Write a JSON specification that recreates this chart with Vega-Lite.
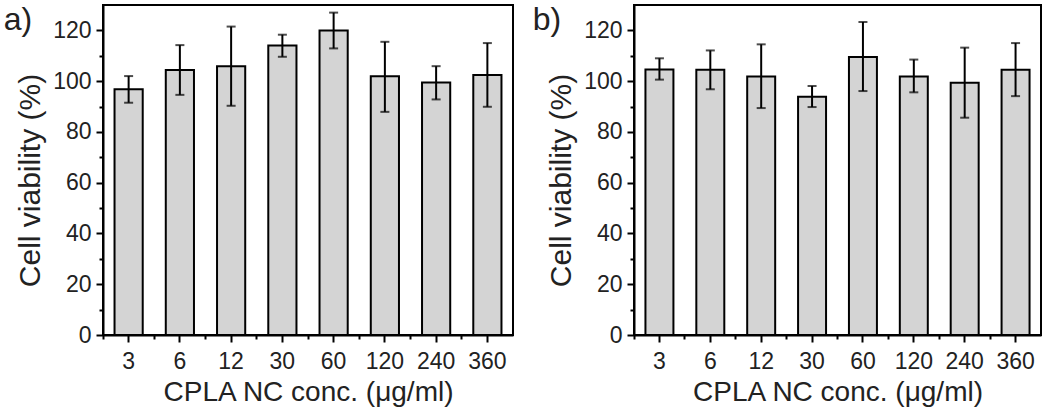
{
  "$schema": "https://vega.github.io/schema/vega-lite/v6.json",
  "background": "white",
  "padding": {"left": 2, "top": 3, "right": 5, "bottom": 0},
  "datasets": {
    "a": [
      {"conc": "3", "mean": 96.8, "lo": 91.5, "hi": 102.0},
      {"conc": "6", "mean": 104.4, "lo": 94.6, "hi": 114.2},
      {"conc": "12", "mean": 105.9, "lo": 90.3, "hi": 121.5},
      {"conc": "30", "mean": 114.0, "lo": 109.6, "hi": 118.3},
      {"conc": "60", "mean": 120.0, "lo": 112.9, "hi": 127.0},
      {"conc": "120", "mean": 101.9, "lo": 87.9, "hi": 115.5},
      {"conc": "240", "mean": 99.5, "lo": 92.8, "hi": 105.9},
      {"conc": "360", "mean": 102.4, "lo": 89.9, "hi": 115.0}
    ],
    "b": [
      {"conc": "3", "mean": 104.6, "lo": 100.6, "hi": 109.0},
      {"conc": "6", "mean": 104.5, "lo": 96.8, "hi": 112.1},
      {"conc": "12", "mean": 101.8, "lo": 89.4, "hi": 114.5},
      {"conc": "30", "mean": 93.9, "lo": 89.8, "hi": 98.1},
      {"conc": "60", "mean": 109.5, "lo": 96.1, "hi": 123.3},
      {"conc": "120", "mean": 101.8, "lo": 95.6, "hi": 108.5},
      {"conc": "240", "mean": 99.4, "lo": 85.6, "hi": 113.2},
      {"conc": "360", "mean": 104.5, "lo": 94.1, "hi": 115.0}
    ]
  },
  "config": {
    "font": "Liberation Sans",
    "view": {"stroke": "black", "strokeWidth": 2},
    "axis": {
      "domainColor": "black", "domainWidth": 2, "tickColor": "black", "tickWidth": 2,
      "labelColor": "#222", "titleColor": "#222", "labelFont": "Liberation Sans", "titleFont": "Liberation Sans",
      "labelFontSize": 23, "titleFontSize": 28, "titleFontWeight": "normal", "grid": false
    },
    "axisLeft": {"titleFontSize": 30},
    "title": {"fontSize": 32, "fontWeight": "normal", "anchor": "start", "frame": "bounds", "color": "#222", "font": "Liberation Sans"},
    "concat": {"spacing": 17}
  },
  "hconcat": [
    {
      "title": {"text": "a)", "dx": -12, "dy": 36},
      "width": 410, "height": 330,
      "data": {"name": "a"},
      "resolve": {"axis": {"x": "independent", "y": "independent"}},
      "layer": [
        {
          "mark": {"type": "bar", "width": {"band": 0.55}, "fill": "#d4d4d4", "stroke": "black", "strokeWidth": 2},
          "encoding": {
            "x": {"field": "conc", "type": "ordinal", "sort": null, "scale": {"paddingInner": 0, "paddingOuter": 0},
                  "axis": {"orient": "bottom", "labelAngle": 0, "tickSize": 7, "labelPadding": 8, "title": "CPLA NC conc. (μg/ml)", "titlePadding": 5}},
            "y": {"field": "mean", "type": "quantitative", "scale": {"domain": [0, 130], "nice": false},
                  "axis": {"orient": "left", "values": [0, 20, 40, 60, 80, 100, 120], "tickSize": 7, "labelPadding": 5, "title": "Cell viability (%)", "titlePadding": 7, "titleY": 175}}
          }
        },
        {
          "mark": {"type": "rule", "color": "black", "strokeWidth": 2},
          "encoding": {
            "x": {"field": "conc", "type": "ordinal", "sort": null,
                  "axis": {"orient": "bottom", "bandPosition": 0, "tickSize": 4, "labels": false, "domain": false, "title": null}},
            "y": {"field": "lo", "type": "quantitative",
                  "axis": {"orient": "left", "values": [10, 30, 50, 70, 90, 110], "tickSize": 4, "labels": false, "domain": false, "title": null}},
            "y2": {"field": "hi"}
          }
        },
        {
          "mark": {"type": "tick", "color": "black", "size": 9, "thickness": 2},
          "encoding": {
            "x": {"field": "conc", "type": "ordinal", "sort": null, "axis": null},
            "y": {"field": "lo", "type": "quantitative", "axis": null}
          }
        },
        {
          "mark": {"type": "tick", "color": "black", "size": 9, "thickness": 2},
          "encoding": {
            "x": {"field": "conc", "type": "ordinal", "sort": null, "axis": null},
            "y": {"field": "hi", "type": "quantitative", "axis": null}
          }
        }
      ]
    },
    {
      "title": {"text": "b)", "dx": -14, "dy": 36},
      "width": 407, "height": 330,
      "data": {"name": "b"},
      "resolve": {"axis": {"x": "independent", "y": "independent"}},
      "layer": [
        {
          "mark": {"type": "bar", "width": {"band": 0.55}, "fill": "#d4d4d4", "stroke": "black", "strokeWidth": 2},
          "encoding": {
            "x": {"field": "conc", "type": "ordinal", "sort": null, "scale": {"paddingInner": 0, "paddingOuter": 0},
                  "axis": {"orient": "bottom", "labelAngle": 0, "tickSize": 7, "labelPadding": 8, "title": "CPLA NC conc. (μg/ml)", "titlePadding": 5}},
            "y": {"field": "mean", "type": "quantitative", "scale": {"domain": [0, 130], "nice": false},
                  "axis": {"orient": "left", "values": [0, 20, 40, 60, 80, 100, 120], "tickSize": 7, "labelPadding": 5, "title": "Cell viability (%)", "titlePadding": 7, "titleY": 175}}
          }
        },
        {
          "mark": {"type": "rule", "color": "black", "strokeWidth": 2},
          "encoding": {
            "x": {"field": "conc", "type": "ordinal", "sort": null,
                  "axis": {"orient": "bottom", "bandPosition": 0, "tickSize": 4, "labels": false, "domain": false, "title": null}},
            "y": {"field": "lo", "type": "quantitative",
                  "axis": {"orient": "left", "values": [10, 30, 50, 70, 90, 110], "tickSize": 4, "labels": false, "domain": false, "title": null}},
            "y2": {"field": "hi"}
          }
        },
        {
          "mark": {"type": "tick", "color": "black", "size": 9, "thickness": 2},
          "encoding": {
            "x": {"field": "conc", "type": "ordinal", "sort": null, "axis": null},
            "y": {"field": "lo", "type": "quantitative", "axis": null}
          }
        },
        {
          "mark": {"type": "tick", "color": "black", "size": 9, "thickness": 2},
          "encoding": {
            "x": {"field": "conc", "type": "ordinal", "sort": null, "axis": null},
            "y": {"field": "hi", "type": "quantitative", "axis": null}
          }
        }
      ]
    }
  ]
}
